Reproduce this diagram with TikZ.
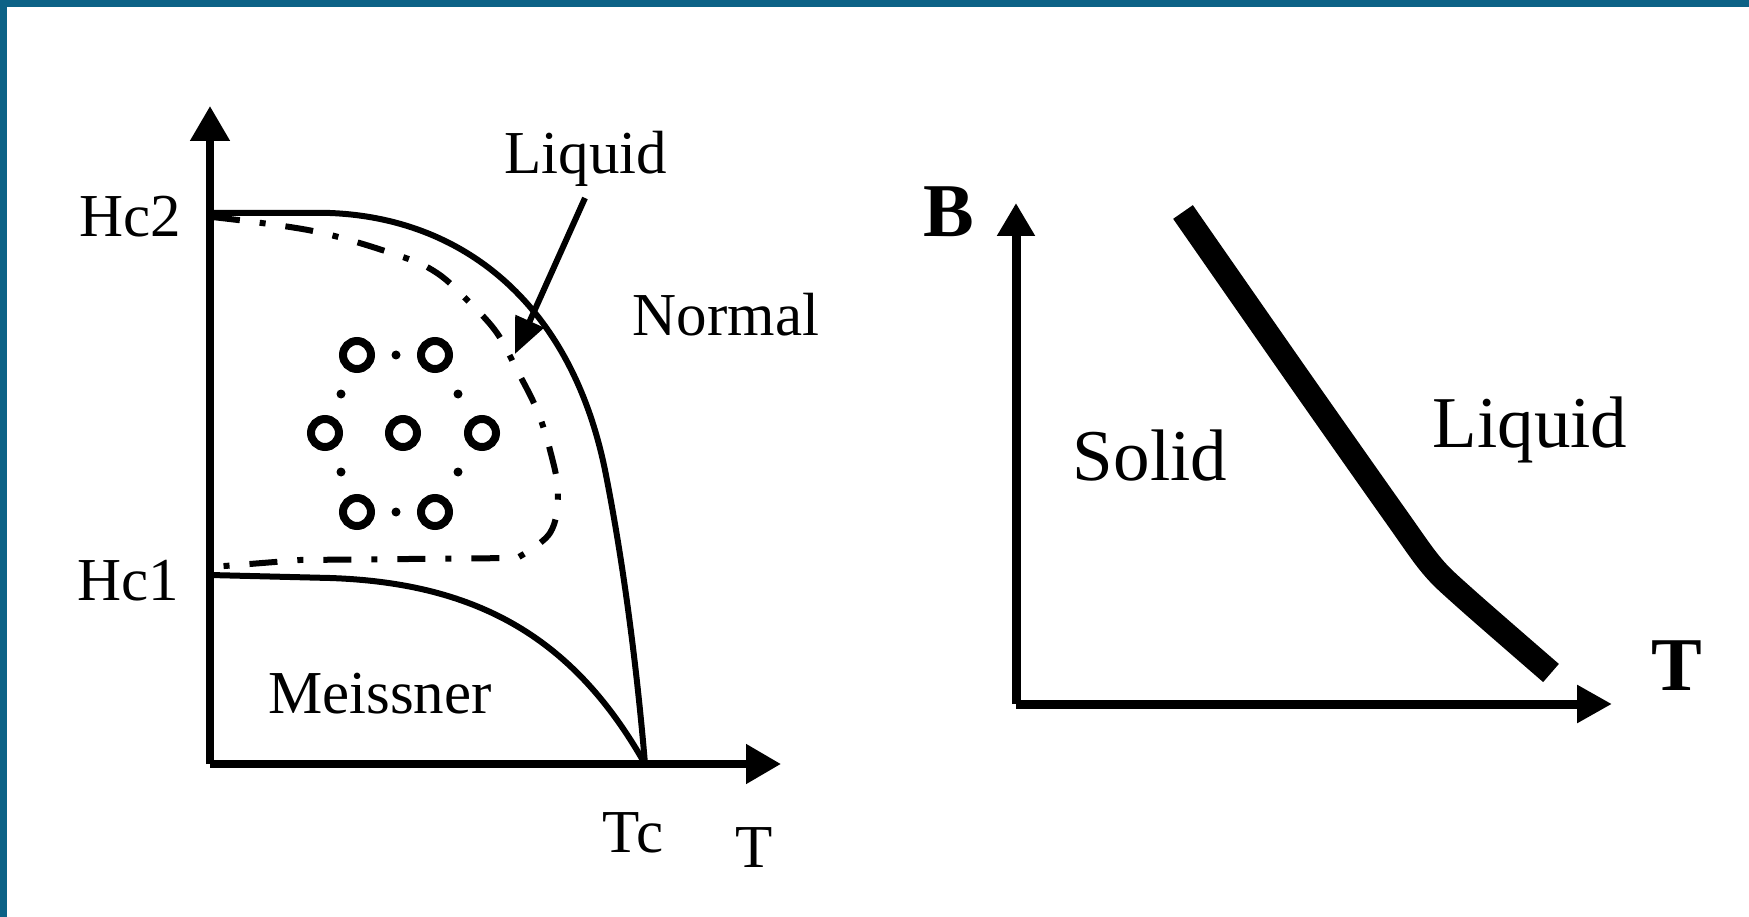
\documentclass[tikz,border=0pt]{standalone}
\usepackage{fontspec}
\setmainfont{Liberation Serif}
\definecolor{framebar}{RGB}{12,98,134}
\usetikzlibrary{arrows.meta}

\begin{document}
\begin{tikzpicture}[x=1pt, y=-1pt,
    axisline/.style={line width=8pt, -{Triangle[length=35pt,width=38pt]}},
    phaseline/.style={line width=6pt},
    mixedline/.style={line width=6pt, dash pattern=on 28pt off 20pt on 6pt off 20pt},
    vortex/.style={line width=8pt},
    lab/.style={inner sep=0pt, anchor=base, font=\fontsize{61}{61}\selectfont},
    biglab/.style={inner sep=0pt, anchor=base, font=\fontsize{73}{76}\selectfont},
    boldlab/.style={inner sep=0pt, anchor=base, font=\fontsize{76}{76}\selectfont\bfseries}]
    \useasboundingbox (0,0) rectangle (1749,917);
    \fill[framebar] (0,0) rectangle (1749,7);
    \fill[framebar] (0,0) rectangle (7,917);

    % Left: type II superconductor H-T diagram
    \coordinate (o1) at (210,764);
    \coordinate (ytop1) at (210,106);
    \coordinate (xend1) at (781,764);
    \draw[axisline] (o1) -- (ytop1);
    \draw[axisline] (o1) -- (xend1);

    \node[lab] (lblHcTwo) at (130,237) {Hc2};
    \node[lab] (lblHcOne) at (128,600) {Hc1};
    \node[lab] (lblTc) at (633,852) {Tc};
    \node[lab] (lblTleft) at (754,867) {T};
    \node[lab] (lblLiquidL) at (586,174) {Liquid};
    \node[lab] (lblNormal) at (726,336) {Normal};
    \node[lab] (lblMeissner) at (380,713) {Meissner};

    \draw[phaseline] (210,213) -- (330,213) .. controls (460,218) and (570,300) .. (605,470)
        .. controls (625,570) and (638,680) .. (645,764);
    \draw[phaseline] (210,575) -- (330,578) .. controls (480,583) and (575,640) .. (645,764);

    % vortex liquid boundary
    \draw[mixedline] plot[smooth, tension=0.6] coordinates
        {(212,217) (313,231) (397,255) (437,273) (470,303) (497,333) (517,370) (537,410) (550,450) (558,493) (550,533) (517,558)}
        -- (300,560) -- (212,567);

    % vortex lattice
    \foreach \x/\y in {357/355, 435/355, 325/433, 403/433, 482/433, 357/512, 435/512}
        \draw[vortex] (\x,\y) circle[radius=14];
    \foreach \x/\y in {396/355, 458/394, 458/472, 396/512, 341/472, 341/394}
        \fill (\x,\y) circle[radius=4.5];

    \coordinate (tipL) at (515,354);
    \draw[phaseline, -{Triangle[length=36pt,width=30pt]}] ([xshift=-1pt,yshift=-24pt]lblLiquidL.base) -- (tipL);

    % Right: B-T melting line
    \coordinate (o2) at (1016,704);
    \coordinate (ytop2) at (1016,203);
    \coordinate (xend2) at (1612,704);
    \draw[line width=9pt, -{Triangle[length=33pt,width=36pt]}] (o2) -- (ytop2);
    \draw[line width=9pt, -{Triangle[length=35pt,width=36pt]}] (o2) -- (xend2);

    \node[boldlab] (lblB) at (949,237) {B};
    \node[boldlab] (lblTright) at (1677,690) {T};
    \node[biglab] (lblSolid) at (1150,480) {Solid};
    \node[biglab] (lblLiquidR) at (1530,447) {Liquid};

    \draw[line width=24pt] plot[smooth, tension=0.5] coordinates
        {(1183,212) (1300,380) (1395,515) (1432,566) (1465,598) (1551,673)};
\end{tikzpicture}
\end{document}
